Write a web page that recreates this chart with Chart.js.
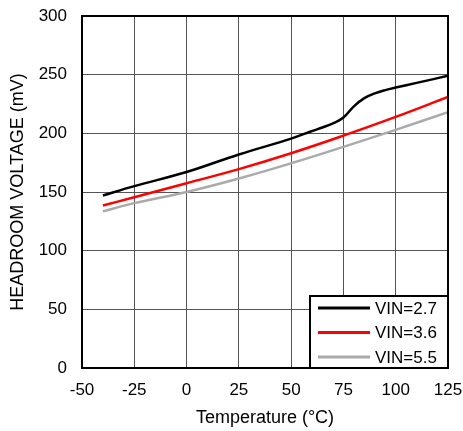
<!DOCTYPE html>
<html>
<head>
<meta charset="utf-8">
<script src="https://cdn.jsdelivr.net/npm/chart.js@4"></script>
<style>
html, body { margin: 0; padding: 0; background: #fff; }
</style>
</head>
<body>
<canvas id="chart" width="463" height="431"></canvas>
<script>
// values
const seriesNames = ['VIN=2.7', 'VIN=3.6', 'VIN=5.5'];
const tempVin27 = [-40, -25, 0, 25, 50, 60, 65, 70, 75, 80, 85, 90, 95, 100, 110, 125];
const vin27 = [147, 155, 167, 182, 195.5, 202, 205, 208.5, 213.5, 223, 230, 234, 236.8, 239, 243, 249];
const tempOther = [-40, -25, 0, 25, 50, 75, 100, 125];
const vin36 = [138.5, 145.5, 157.5, 169.5, 183, 198, 214, 231];
const vin55 = [133.5, 140.5, 150, 161.5, 174.5, 188.5, 203, 218];
const xTicks = [-50, -25, 0, 25, 50, 75, 100, 125];
const yTicks = [0, 50, 100, 150, 200, 250, 300];

const FONT = 'Arial, "Liberation Sans", sans-serif';

function pts(xs, ys) {
	return xs.map((x, i) => ({ x: x, y: ys[i] }));
}

function noPad(s) {
	s.paddingTop = 0;
	s.paddingBottom = 0;
	s.paddingLeft = 0;
	s.paddingRight = 0;
}

// frame, legend box and axis titles
const decorPlugin = {
	id: 'decor',
	afterDatasetsDraw(chart) {
		const ctx = chart.ctx;
		const a = chart.chartArea;
		ctx.save();
		ctx.strokeStyle = '#000';
		ctx.lineWidth = 2;
		ctx.strokeRect(a.left, a.top, a.right - a.left, a.bottom - a.top);

		// legend in lower right corner
		const bx = 310, by = 296;
		ctx.fillStyle = '#fff';
		ctx.fillRect(bx, by, a.right - bx, a.bottom - by);
		ctx.strokeRect(bx, by, a.right - bx, a.bottom - by);
		ctx.font = '17px ' + FONT;
		ctx.textBaseline = 'middle';
		ctx.textAlign = 'left';
		chart.data.datasets.forEach((ds, i) => {
			const y = 308 + i * 24.5;
			ctx.strokeStyle = ds.borderColor;
			ctx.lineWidth = 3;
			ctx.beginPath();
			ctx.moveTo(318, y);
			ctx.lineTo(370, y);
			ctx.stroke();
			ctx.fillStyle = '#000';
			ctx.fillText(ds.label, 375, y + 1);
		});
		ctx.restore();
	},
	afterDraw(chart) {
		const ctx = chart.ctx;
		const a = chart.chartArea;
		ctx.save();
		ctx.fillStyle = '#000';
		ctx.font = '18px ' + FONT;
		ctx.textAlign = 'center';
		ctx.textBaseline = 'middle';
		ctx.fillText('Temperature (°C)', (a.left + a.right) / 2, 418);
		ctx.translate(18, (a.top + a.bottom) / 2);
		ctx.rotate(-Math.PI / 2);
		ctx.fillText('HEADROOM VOLTAGE (mV)', 0, 0);
		ctx.restore();
	}
};

const chart = new Chart(document.getElementById('chart'), {
	type: 'scatter',
	data: {
		datasets: [
			{
				label: seriesNames[0],
				data: pts(tempVin27, vin27),
				borderColor: '#000000',
				borderWidth: 2.5
			},
			{
				label: seriesNames[1],
				data: pts(tempOther, vin36),
				borderColor: '#ff0000',
				borderWidth: 2.5
			},
			{
				label: seriesNames[2],
				data: pts(tempOther, vin55),
				borderColor: '#aaaaaa',
				borderWidth: 2.5
			}
		].map(ds => Object.assign(ds, {
			showLine: true,
			pointRadius: 0,
			tension: 0.4,
			fill: false
		}))
	},
	options: {
		responsive: false,
		animation: false,
		layout: { padding: { top: 16, right: 15, left: 0, bottom: 0 } },
		plugins: {
			legend: { display: false },
			tooltip: { enabled: false }
		},
		scales: {
			x: {
				type: 'linear',
				min: -50,
				max: 125,
				afterBuildTicks: s => { s.ticks = xTicks.map(v => ({ value: v })); },
				afterFit: s => { s.height = 63; noPad(s); },
				grid: { color: '#555', lineWidth: 1, drawTicks: false },
				border: { display: false },
				ticks: { color: '#000', font: { family: FONT, size: 17 }, padding: 12, maxRotation: 0 }
			},
			y: {
				type: 'linear',
				min: 0,
				max: 300,
				afterBuildTicks: s => { s.ticks = yTicks.map(v => ({ value: v })); },
				afterFit: s => { s.width = 82; noPad(s); },
				grid: { color: '#555', lineWidth: 1, drawTicks: false },
				border: { display: false },
				ticks: { color: '#000', font: { family: FONT, size: 17 }, padding: 15 }
			}
		}
	},
	plugins: [decorPlugin]
});
</script>
</body>
</html>
